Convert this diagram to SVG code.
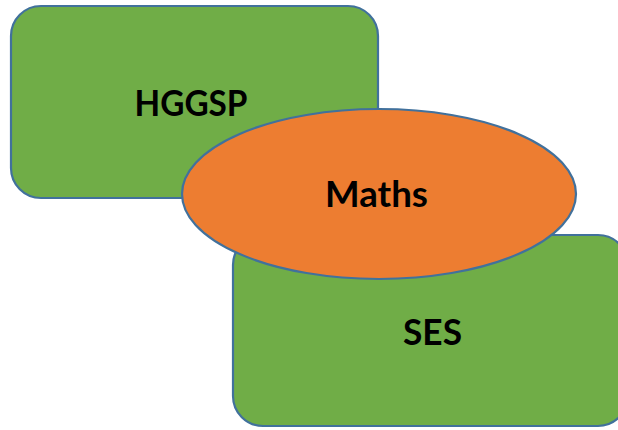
<svg xmlns="http://www.w3.org/2000/svg" width="618" height="430" viewBox="0 0 618 430">
<style>
.box{fill:#70AD47;stroke:#41719C;stroke-width:2.2}
.oval{fill:#ED7D31;stroke:#41719C;stroke-width:2.2}
.lbl{font-family:Lato,"Open Sans","Liberation Sans",sans-serif;font-weight:bold;font-size:36px;fill:#000;text-anchor:middle}
</style>
<rect width="618" height="430" fill="#fff"/>
<g id="hggsp">
<rect class="box" x="11" y="6" width="367" height="192" rx="30" ry="30"/>
<text class="lbl" x="191" y="116" textLength="113" lengthAdjust="spacingAndGlyphs">HGGSP</text>
</g>
<g id="ses">
<rect class="box" x="233" y="235" width="395" height="191" rx="30" ry="30"/>
<text class="lbl" x="432.5" y="345" textLength="59" lengthAdjust="spacingAndGlyphs">SES</text>
</g>
<g id="maths">
<ellipse class="oval" cx="379" cy="194" rx="197" ry="85"/>
<text class="lbl" x="376.5" y="207" textLength="103" lengthAdjust="spacingAndGlyphs">Maths</text>
</g>
<g id="connectors"/>
</svg>
